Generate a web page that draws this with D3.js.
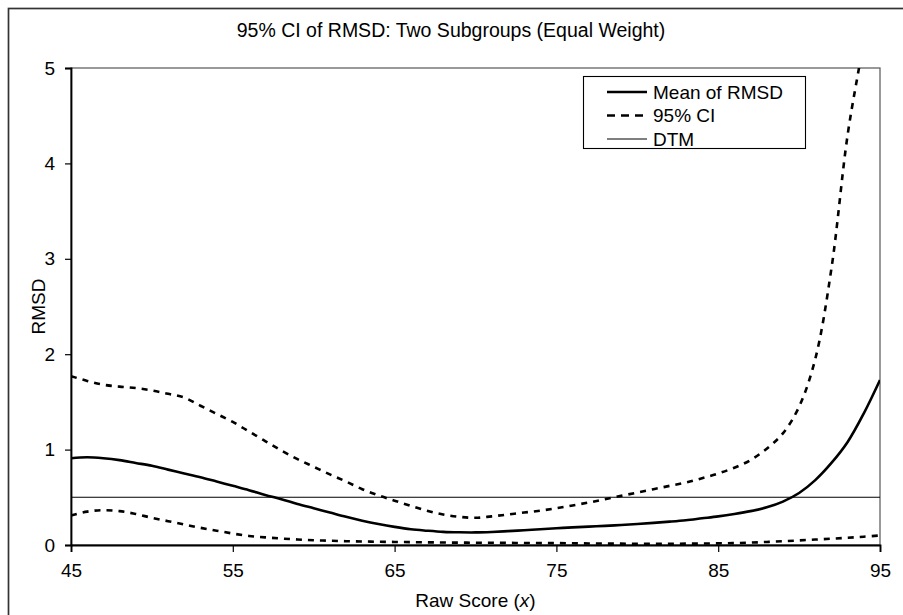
<!DOCTYPE html>
<html>
<head>
<meta charset="utf-8">
<script src="https://cdn.jsdelivr.net/npm/d3@7/dist/d3.min.js"></script>
<style>
  html, body { margin: 0; padding: 0; background: #fff; }
  svg { display: block; font-family: "Liberation Sans", Arial, sans-serif; }
</style>
</head>
<body>
<svg id="chart" width="903" height="615"></svg>
<script>
// Raw score grid (x) and the three series read at each score
const scores = d3.range(45, 96);

const meanRMSD = [
  0.91, 0.92, 0.91, 0.89, 0.86, 0.83, 0.79, 0.75, 0.71, 0.665,
  0.62, 0.575, 0.525, 0.48, 0.43, 0.385, 0.34, 0.295, 0.255, 0.22,
  0.19, 0.165, 0.15, 0.138, 0.133, 0.132, 0.137, 0.145, 0.155, 0.165,
  0.175, 0.185, 0.193, 0.2, 0.21, 0.22, 0.232, 0.245, 0.26, 0.28,
  0.3, 0.325, 0.355, 0.395, 0.455, 0.545, 0.68, 0.86, 1.08, 1.38, 1.73
];

const ciUpper = [
  1.77, 1.72, 1.68, 1.66, 1.645, 1.62, 1.585, 1.545, 1.46, 1.375,
  1.29, 1.19, 1.09, 0.99, 0.90, 0.82, 0.74, 0.665, 0.585, 0.52,
  0.465, 0.41, 0.36, 0.32, 0.295, 0.285, 0.30, 0.32, 0.34, 0.36,
  0.385, 0.415, 0.445, 0.48, 0.515, 0.55, 0.585, 0.62, 0.655, 0.70,
  0.75, 0.81, 0.89, 1.01, 1.17, 1.45, 1.95, 2.9, 4.3, 5.3, 6.5
];

const ciLower = [
  0.31, 0.35, 0.365, 0.355, 0.325, 0.285, 0.25, 0.215, 0.18, 0.15,
  0.12, 0.095, 0.08, 0.068, 0.058, 0.05, 0.045, 0.04, 0.037, 0.034,
  0.032, 0.03, 0.028, 0.026, 0.025, 0.024, 0.023, 0.022, 0.021, 0.02,
  0.02, 0.018, 0.016, 0.015, 0.014, 0.013, 0.013, 0.013, 0.014, 0.015,
  0.017, 0.02, 0.025, 0.032, 0.04, 0.048, 0.057, 0.066, 0.076, 0.087, 0.1
];

const dtmValue = 0.5;

const xTicks = [45, 55, 65, 75, 85, 95];
const yTicks = [0, 1, 2, 3, 4, 5];

const titleText = "95% CI of RMSD: Two Subgroups (Equal Weight)";
const yTitle = "RMSD";
const legendLabels = ["Mean of RMSD", "95% CI", "DTM"];

// ---- layout ----
const svg = d3.select("#chart");
const plot = { left: 71, right: 880, top: 68, bottom: 545 };
const FONT = 19;

const x = d3.scaleLinear().domain([45, 95]).range([plot.left, plot.right]);
const y = d3.scaleLinear().domain([0, 5]).range([plot.bottom, plot.top]);

// chart area frame
svg.append("rect")
  .attr("x", 8.5).attr("y", 8.5)
  .attr("width", 920).attr("height", 640)
  .attr("fill", "#fff")
  .attr("stroke", "#333").attr("stroke-width", 1.7);

// title
svg.append("text")
  .attr("x", 451).attr("y", 37)
  .attr("text-anchor", "middle")
  .attr("font-size", 19.5)
  .attr("fill", "#000")
  .text(titleText);

// plot border (top / right)
svg.append("rect")
  .attr("x", plot.left).attr("y", plot.top)
  .attr("width", plot.right - plot.left).attr("height", plot.bottom - plot.top)
  .attr("fill", "none").attr("stroke", "#555").attr("stroke-width", 1.2);

// clip for lines
svg.append("defs").append("clipPath").attr("id", "plotclip")
  .append("rect")
  .attr("x", plot.left).attr("y", plot.top)
  .attr("width", plot.right - plot.left).attr("height", plot.bottom - plot.top);

// axes
const xAxis = d3.axisBottom(x).tickValues(xTicks).tickSize(7).tickPadding(12)
  .tickFormat(d3.format("d"));
const yAxis = d3.axisLeft(y).tickValues(yTicks).tickSize(6).tickPadding(10)
  .tickFormat(d3.format("d"));

const gx = svg.append("g").attr("transform", `translate(0,${plot.bottom})`).call(xAxis);
const gy = svg.append("g").attr("transform", `translate(${plot.left},0)`).call(yAxis);

[gx, gy].forEach(g => {
  g.select(".domain").attr("stroke", "#000").attr("stroke-width", 1.8);
  g.selectAll(".tick line").attr("stroke", "#000").attr("stroke-width", 1.2);
  g.selectAll(".tick text")
    .attr("font-size", FONT)
    .attr("font-family", "Liberation Sans, Arial, sans-serif")
    .attr("fill", "#000");
});

// axis titles
svg.append("text")
  .attr("transform", `translate(38,${(plot.top + plot.bottom) / 2}) rotate(-90)`)
  .attr("text-anchor", "middle")
  .attr("dominant-baseline", "central")
  .attr("font-size", FONT)
  .text(yTitle);

const xt = svg.append("text")
  .attr("x", (plot.left + plot.right) / 2).attr("y", 607)
  .attr("text-anchor", "middle")
  .attr("font-size", FONT);
xt.append("tspan").text("Raw Score (");
xt.append("tspan").attr("font-style", "italic").text("x");
xt.append("tspan").text(")");

// series
const lineGen = vals => d3.line()
  .x((d, i) => x(scores[i]))
  .y(d => y(d))
  .curve(d3.curveCatmullRom.alpha(0.5))(vals);

const lines = svg.append("g").attr("clip-path", "url(#plotclip)");

lines.append("line")
  .attr("x1", x(45)).attr("x2", x(95))
  .attr("y1", y(dtmValue)).attr("y2", y(dtmValue))
  .attr("stroke", "#000").attr("stroke-width", 1.1);

[ciUpper, ciLower].forEach(vals => {
  lines.append("path")
    .attr("d", lineGen(vals))
    .attr("fill", "none")
    .attr("stroke", "#000")
    .attr("stroke-width", 2.6)
    .attr("stroke-dasharray", "6,6");
});

lines.append("path")
  .attr("d", lineGen(meanRMSD))
  .attr("fill", "none")
  .attr("stroke", "#000")
  .attr("stroke-width", 2.6);

// legend
const lg = svg.append("g");
lg.append("rect")
  .attr("x", 583.5).attr("y", 76.5)
  .attr("width", 222).attr("height", 72)
  .attr("fill", "#fff").attr("stroke", "#000").attr("stroke-width", 1.1);

const legendStyles = [
  { w: 2.6, dash: null },
  { w: 2.6, dash: "8,6" },
  { w: 1.1, dash: null }
];
legendLabels.forEach((lab, i) => {
  const cy = 92 + i * 23.5;
  const l = lg.append("line")
    .attr("x1", 607).attr("x2", 647)
    .attr("y1", cy).attr("y2", cy)
    .attr("stroke", "#000").attr("stroke-width", legendStyles[i].w);
  if (legendStyles[i].dash) l.attr("stroke-dasharray", legendStyles[i].dash);
  lg.append("text")
    .attr("x", 653).attr("y", cy)
    .attr("dominant-baseline", "central")
    .attr("font-size", FONT)
    .text(lab);
});
</script>
</body>
</html>
